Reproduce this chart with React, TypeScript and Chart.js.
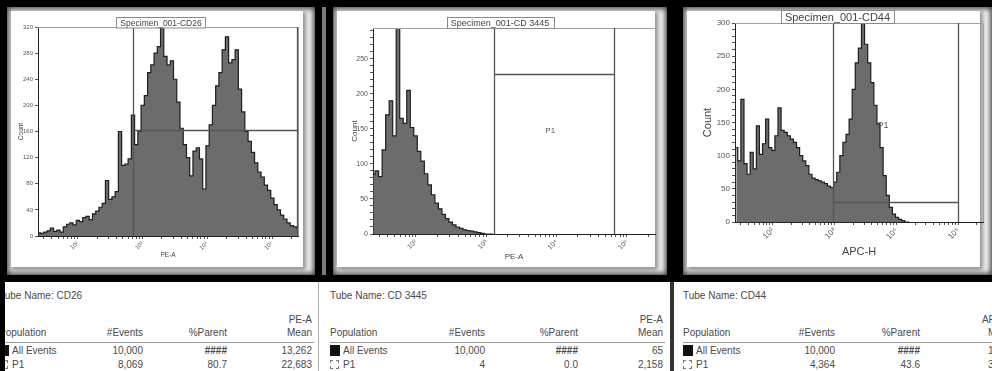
import React, { useEffect, useRef } from 'react';
import { Chart, registerables } from 'chart.js';
Chart.register(...registerables);

// ---------------- data ----------------
const xMinLog = 1.39;
const xMaxLog = 5.4;
const decadeLabels: Record<number, string> = { 2: '10²', 3: '10³', 4: '10⁴', 5: '10⁵' };
const minorFactors = [1, 2, 3, 4, 5, 6, 7, 8, 9];
const binWidthLog = 0.05;

// CD26 (PE-A)
const cd26BinStart = 1.405;
const cd26Counts = [
  5, 4, 6, 8, 12, 7, 9, 6, 14, 18,
  20, 17, 24, 22, 28, 30, 25, 34, 38, 44,
  50, 85, 56, 60, 68, 160, 108, 110, 118, 185,
  140, 160, 200, 215, 250, 262, 280, 290, 335, 275,
  262, 268, 240, 205, 165, 140, 120, 92, 130, 135,
  118, 72, 138, 170, 200, 230, 250, 285, 305, 265,
  270, 285, 225, 190, 160, 145, 128, 112, 98, 90,
  78, 70, 58, 48, 40, 32, 26, 20, 16, 14, 12,
];
const cd26YTicks = [0, 40, 80, 120, 160, 200, 240, 280, 320];
const cd26Gate = [2.86, 5.4, 163];

// CD 3445 (PE-A)
const cd3445BinStart = 1.395;
const cd3445Counts = [
  85, 90, 82, 120, 170, 190, 140, 400, 165, 158,
  205, 152, 140, 118, 104, 86, 70, 56, 44, 36,
  28, 22, 17, 13, 10, 8, 6, 5, 4, 3,
  2, 1, 0, 0, 0,
];
const cd3445YTicks = [0, 50, 100, 150, 200, 250];
const cd3445Gate = [3.115, 4.82, 228];
const cd3445P1Label = [3.91, 148];

// CD44 (APC-H)
const cd44BinStart = 1.41;
const cd44Counts = [
  112, 92, 185, 88, 72, 105, 80, 145, 102, 118,
  155, 112, 108, 130, 172, 138, 135, 130, 125, 120,
  112, 100, 92, 85, 72, 66, 64, 62, 60, 58,
  54, 52, 60, 75, 100, 120, 132, 155, 200, 240,
  262, 330, 268, 240, 210, 176, 148, 112, 70, 40,
  22, 12, 7, 4, 2, 0, 0,
];
const cd44YTicks = [0, 50, 100, 150, 200, 250, 300];
const cd44Gate = [2.98, 5.0, 30];
const cd44P1Label = [3.785, 146];

// table texts
const tubeNames = ['CD26', 'CD 3445', 'CD44'];
const meanParams = ['PE-A', 'PE-A', 'APC-H'];
const allEventsCount = ['10,000', '10,000', '10,000'];
const allEventsParent = ['####', '####', '####'];
const allEventsMean = ['13,262', '65', '1,672'];
const p1Count = ['8,069', '4', '4,364'];
const p1Parent = ['80.7', '0.0', '43.6'];
const p1Mean = ['22,683', '2,158', '3,541'];

// ---------------- chart ----------------
const fontFam = '"Liberation Sans", "DejaVu Sans", Arial, sans-serif';

type PanelCfg = {
  left: number; width: number;
  title: string; xTitle: string;
  start: number; counts: number[];
  yMax: number; yMajor: number[]; yMinorStep: number;
  gate: number[]; p1: number[] | null;
  pad: { left: number; right: number; top: number; bottom: number };
  yW: number; xH: number;
  tickFont: number; axisFont: number; titleFont: number;
};

const panels: PanelCfg[] = [
  {
    left: 7, width: 308, title: 'Specimen_001-CD26', xTitle: 'PE-A',
    start: cd26BinStart, counts: cd26Counts, yMax: 320, yMajor: cd26YTicks, yMinorStep: 0,
    gate: cd26Gate, p1: null,
    pad: { left: 10, right: 17, top: 20, bottom: 16 }, yW: 21, xH: 23,
    tickFont: 6, axisFont: 6.5, titleFont: 8.5,
  },
  {
    left: 333, width: 334, title: 'Specimen_001-CD 3445', xTitle: 'PE-A',
    start: cd3445BinStart, counts: cd3445Counts, yMax: 294, yMajor: cd3445YTicks, yMinorStep: 10,
    gate: cd3445Gate, p1: cd3445P1Label,
    pad: { left: 17, right: 12, top: 21, bottom: 13 }, yW: 23, xH: 28,
    tickFont: 7, axisFont: 8, titleFont: 9,
  },
  {
    left: 683, width: 309, title: 'Specimen_001-CD44', xTitle: 'APC-H',
    start: cd44BinStart, counts: cd44Counts, yMax: 300, yMajor: cd44YTicks, yMinorStep: 10,
    gate: cd44Gate, p1: cd44P1Label,
    pad: { left: 18, right: 9, top: 16, bottom: 16 }, yW: 34, xH: 37,
    tickFont: 8, axisFont: 11, titleFont: 11,
  },
];

function HistChart({ cfg }: { cfg: PanelCfg }) {
  const ref = useRef<HTMLCanvasElement>(null);
  useEffect(() => {
    const canvas = ref.current!;
    const data = cfg.counts.map((c, i) => ({ x: cfg.start + i * binWidthLog, y: c }));
    const yTickVals: number[] = [];
    if (cfg.yMinorStep > 0) {
      for (let v = 0; v <= cfg.yMax + 1e-9; v += cfg.yMinorStep) yTickVals.push(v);
    } else {
      yTickVals.push(...cfg.yMajor);
    }
    const xTickVals: number[] = [];
    for (let d = 1; d <= 5; d++) {
      for (const k of minorFactors) {
        const v = d + Math.log10(k);
        if (v >= xMinLog && v <= xMaxLog) xTickVals.push(v);
      }
    }
    const overlay = {
      id: 'overlay',
      afterDatasetsDraw(chart: any) {
        const { ctx, chartArea: a, scales } = chart;
        const xs = scales.x, ys = scales.y;
        ctx.save();
        // plot frame (top / right)
        ctx.strokeStyle = '#a0a0a0';
        ctx.lineWidth = 1;
        ctx.beginPath();
        ctx.moveTo(a.left, Math.round(a.top) + 0.5);
        ctx.lineTo(Math.round(a.right) + 0.5, Math.round(a.top) + 0.5);
        ctx.lineTo(Math.round(a.right) + 0.5, a.bottom);
        ctx.stroke();
        // gate
        const [g0, g1, gl] = cfg.gate;
        const x1 = Math.round(xs.getPixelForValue(g0)) + 0.5;
        const x2 = Math.round(Math.min(xs.getPixelForValue(g1), a.right - 1)) + 0.5;
        const yl = Math.round(ys.getPixelForValue(gl)) + 0.5;
        ctx.strokeStyle = '#555';
        ctx.lineWidth = 1.3;
        ctx.beginPath();
        ctx.moveTo(x1, a.top); ctx.lineTo(x1, a.bottom);
        ctx.moveTo(x2, a.top); ctx.lineTo(x2, a.bottom);
        ctx.moveTo(x1, yl); ctx.lineTo(x2, yl);
        ctx.stroke();
        if (cfg.p1) {
          ctx.fillStyle = '#555';
          ctx.font = `${cfg.tickFont + 1}px ${fontFam}`;
          ctx.textAlign = 'center';
          ctx.textBaseline = 'middle';
          ctx.fillText('P1', xs.getPixelForValue(cfg.p1[0]), ys.getPixelForValue(cfg.p1[1]));
        }
        // title box
        ctx.font = `${cfg.titleFont}px ${fontFam}`;
        const w = ctx.measureText(cfg.title).width;
        const cx = chart.width / 2;
        const h = cfg.titleFont + 2;
        const bx = Math.round(cx - w / 2 - 4) + 0.5;
        const by = Math.round(a.top - h) + 0.5;
        ctx.fillStyle = '#fff';
        ctx.fillRect(bx, by, Math.round(w + 8), h);
        ctx.strokeStyle = '#8a8a8a';
        ctx.lineWidth = 1;
        ctx.strokeRect(bx, by, Math.round(w + 8), h);
        ctx.fillStyle = '#444';
        ctx.textAlign = 'center';
        ctx.textBaseline = 'middle';
        ctx.fillText(cfg.title, cx, by + h / 2 + 0.5);
        ctx.restore();
      },
    };
    const chart = new Chart(canvas, {
      type: 'line',
      data: {
        datasets: [
          {
            data,
            stepped: 'middle',
            fill: 'origin',
            backgroundColor: '#6c6c6c',
            borderColor: '#1e1e1e',
            borderWidth: 1.2,
            pointRadius: 0,
          } as any,
        ],
      },
      options: {
        animation: false,
        responsive: false,
        devicePixelRatio: 1,
        events: [],
        layout: { padding: cfg.pad },
        plugins: { legend: { display: false }, tooltip: { enabled: false } },
        scales: {
          x: {
            type: 'linear',
            min: xMinLog,
            max: xMaxLog,
            afterBuildTicks: (s: any) => { s.ticks = xTickVals.map((v) => ({ value: v })); },
            afterFit: (s: any) => { s.height = cfg.xH; },
            ticks: {
              autoSkip: false,
              minRotation: 45,
              maxRotation: 45,
              padding: 1,
              color: '#555',
              font: { size: cfg.tickFont, family: fontFam },
              callback: (v: any) => {
                const r = Math.round(v);
                return Math.abs(v - r) < 1e-9 && decadeLabels[r] ? decadeLabels[r] : '';
              },
            },
            grid: { display: true, drawOnChartArea: false, drawTicks: true, tickLength: 3, tickColor: '#555' },
            border: { display: true, color: '#222', width: 1 },
            title: { display: true, text: cfg.xTitle, color: '#444', padding: 0, font: { size: cfg.axisFont, family: fontFam } },
          },
          y: {
            type: 'linear',
            min: 0,
            max: cfg.yMax,
            afterBuildTicks: (s: any) => { s.ticks = yTickVals.map((v) => ({ value: v })); },
            afterFit: (s: any) => { s.width = cfg.yW; },
            ticks: {
              autoSkip: false,
              padding: 2,
              color: '#555',
              font: { size: cfg.tickFont, family: fontFam },
              callback: (v: any) => (cfg.yMajor.includes(Math.round(v)) && Math.abs(v - Math.round(v)) < 1e-9 ? String(Math.round(v)) : ''),
            },
            grid: { display: true, drawOnChartArea: false, drawTicks: true, tickLength: 3, tickColor: '#555' },
            border: { display: true, color: '#222', width: 1 },
            title: { display: true, text: 'Count', color: '#444', padding: 0, font: { size: cfg.axisFont, family: fontFam } },
          },
        },
      } as any,
      plugins: [overlay],
    });
    return () => chart.destroy();
  }, [cfg]);
  return (
    <canvas
      ref={ref}
      width={cfg.width}
      height={268}
      style={{ position: 'absolute', left: 0, top: 0, width: cfg.width, height: 268 }}
    />
  );
}

function Panel({ cfg }: { cfg: PanelCfg }) {
  return (
    <div
      style={{
        position: 'absolute', left: cfg.left, top: 7, width: cfg.width, height: 268,
        background: '#f2f2f2', boxShadow: 'inset 0 0 5px 2px rgba(0,0,0,0.7)',
      }}
    >
      <div
        style={{
          position: 'absolute', left: 4, top: 4, right: 12, bottom: 8,
          background: '#fff', boxShadow: '2px 2px 4px 1px rgba(0,0,0,0.4)',
        }}
      />
      <HistChart cfg={cfg} />
    </div>
  );
}

// ---------------- tables ----------------
const tableGeom = [
  { clipLeft: 5, clipRight: 318, origin: -1, evEnd: 143, parEnd: 227, meanEnd: 312 },
  { clipLeft: 319, clipRight: 670, origin: 330, evEnd: 485, parEnd: 578, meanEnd: 663 },
  { clipLeft: 674, clipRight: 992, origin: 683, evEnd: 835, parEnd: 920, meanEnd: 1013 },
];

function T({ x, y, text, right, bold, base }: { x: number; y: number; text: string; right?: boolean; bold?: boolean; base: number }) {
  const style: React.CSSProperties = {
    position: 'absolute', top: y - 282 - 6, height: 12, lineHeight: '12px', fontSize: 10,
    whiteSpace: 'nowrap', color: '#4a4a4a', fontWeight: bold ? 700 : 400,
  };
  if (right) {
    style.left = x - base - 200;
    style.width = 200;
    style.textAlign = 'right';
  } else {
    style.left = x - base;
  }
  return <div style={style}>{text}</div>;
}

function Table({ i }: { i: number }) {
  const g = tableGeom[i];
  const b = g.clipLeft;
  return (
    <div style={{ position: 'absolute', left: b, top: 282, width: g.clipRight - b, height: 89, overflow: 'hidden', background: '#fff' }}>
      <T base={b} x={g.origin} y={296} text={`Tube Name:  ${tubeNames[i]}`} />
      <T base={b} x={g.meanEnd} y={320} text={meanParams[i]} right />
      <T base={b} x={g.origin} y={333} text="Population" />
      <T base={b} x={g.evEnd} y={333} text="#Events" right />
      <T base={b} x={g.parEnd} y={333} text="%Parent" right />
      <T base={b} x={g.meanEnd} y={333} text="Mean" right />
      <div style={{ position: 'absolute', left: g.origin - b, top: 342 - 282, width: g.meanEnd - g.origin + 2, height: 1, background: '#9a9a9a' }} />
      <div style={{ position: 'absolute', left: g.origin - b, top: 345 - 282, width: 10, height: 11, background: '#111' }} />
      <T base={b} x={g.origin + 13} y={351} text="All Events" />
      <T base={b} x={g.evEnd} y={351} text={allEventsCount[i]} right />
      <T base={b} x={g.parEnd} y={351} text={allEventsParent[i]} right bold />
      <T base={b} x={g.meanEnd} y={351} text={allEventsMean[i]} right />
      <div style={{ position: 'absolute', left: g.origin - b, top: 360 - 282, width: 7, height: 7, border: '1px dashed #777' }} />
      <T base={b} x={g.origin + 13} y={365} text="P1" />
      <T base={b} x={g.evEnd} y={365} text={p1Count[i]} right />
      <T base={b} x={g.parEnd} y={365} text={p1Parent[i]} right />
      <T base={b} x={g.meanEnd} y={365} text={p1Mean[i]} right />
    </div>
  );
}

export default function App() {
  return (
    <div
      style={{
        position: 'fixed', left: 0, top: 0, width: 992, height: 371, background: '#fff',
        overflow: 'hidden', fontFamily: fontFam,
      }}
    >
      <div style={{ position: 'absolute', left: 0, top: 0, width: 992, height: 282, background: '#000' }} />
      <div style={{ position: 'absolute', left: 322, top: 7, width: 4, height: 268, background: '#7a7a7a' }} />
      {panels.map((p, i) => (
        <Panel key={i} cfg={p} />
      ))}
      {[0, 1, 2].map((i) => (
        <Table key={i} i={i} />
      ))}
      <div style={{ position: 'absolute', left: 0, top: 282, width: 5, height: 89, background: '#000' }} />
      <div style={{ position: 'absolute', left: 318, top: 282, width: 1, height: 89, background: '#b0b0b0' }} />
      <div style={{ position: 'absolute', left: 670, top: 282, width: 4, height: 89, background: '#333' }} />
    </div>
  );
}
